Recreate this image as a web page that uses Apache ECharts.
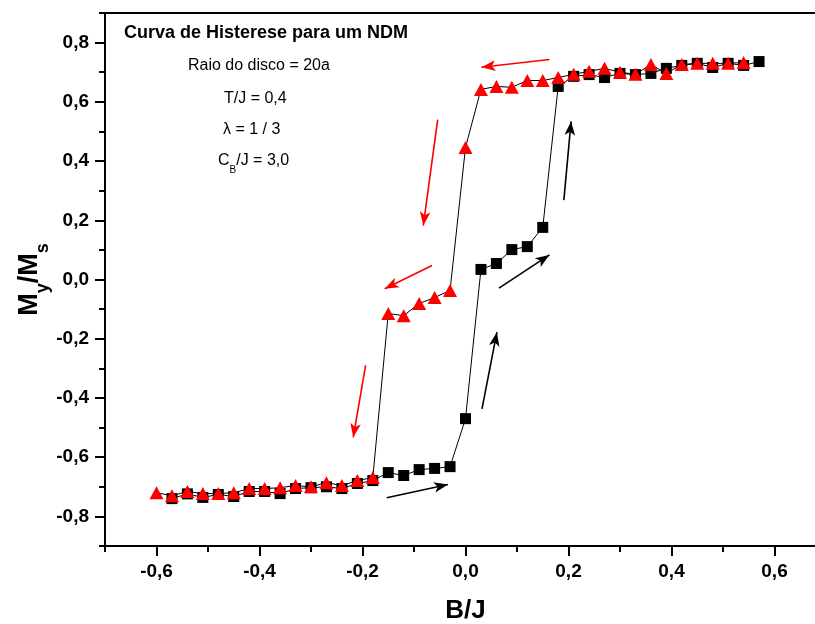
<!DOCTYPE html>
<html>
<head>
<meta charset="utf-8">
<script src="https://cdn.jsdelivr.net/npm/echarts@6/dist/echarts.min.js"></script>
<style>html,body{margin:0;padding:0;background:#fff}#c{width:815px;height:624px}</style>
</head>
<body>
<div id="c"></div>
<script>
// Increasing field branch (black squares)
var upB = [-0.57,-0.54,-0.51,-0.48,-0.45,-0.42,-0.39,-0.36,-0.33,-0.30,-0.27,-0.24,-0.21,-0.18,-0.15,-0.12,-0.09,-0.06,-0.03,0.00,0.03,0.06,0.09,0.12,0.15,0.18,0.21,0.24,0.27,0.30,0.33,0.36,0.39,0.42,0.45,0.48,0.51,0.54,0.57];
var upM = [-0.740,-0.724,-0.736,-0.726,-0.733,-0.716,-0.716,-0.723,-0.706,-0.703,-0.700,-0.706,-0.689,-0.679,-0.652,-0.662,-0.642,-0.638,-0.632,-0.470,0.034,0.054,0.101,0.111,0.176,0.652,0.686,0.692,0.682,0.696,0.692,0.696,0.713,0.723,0.730,0.716,0.730,0.723,0.736];
// Decreasing field branch (red triangles)
var downB = [0.54,0.51,0.48,0.45,0.42,0.39,0.36,0.33,0.30,0.27,0.24,0.21,0.18,0.15,0.12,0.09,0.06,0.03,0.00,-0.03,-0.06,-0.09,-0.12,-0.15,-0.18,-0.21,-0.24,-0.27,-0.30,-0.33,-0.36,-0.39,-0.42,-0.45,-0.48,-0.51,-0.54,-0.57,-0.60];
var downM = [0.733,0.730,0.730,0.730,0.726,0.696,0.726,0.693,0.700,0.713,0.703,0.693,0.682,0.672,0.672,0.649,0.652,0.642,0.446,-0.037,-0.061,-0.081,-0.122,-0.115,-0.669,-0.679,-0.696,-0.686,-0.700,-0.696,-0.703,-0.706,-0.706,-0.720,-0.723,-0.723,-0.716,-0.730,-0.720];
// Annotation arrows [x1,y1,x2,y2] in data units
var redArrows = [[0.163,0.743,0.031,0.717],[-0.054,0.540,-0.082,0.182],[-0.065,0.047,-0.157,-0.031],[-0.194,-0.290,-0.218,-0.533]];
var blackArrows = [[-0.153,-0.737,-0.034,-0.692],[0.032,-0.437,0.061,-0.178],[0.065,-0.029,0.163,0.083],[0.191,0.268,0.205,0.534]];
// Ticks
var xMajor = [-0.6,-0.4,-0.2,0.0,0.2,0.4,0.6];
var xMinor = [-0.7,-0.5,-0.3,-0.1,0.1,0.3,0.5,0.7];
var yMajor = [-0.8,-0.6,-0.4,-0.2,0.0,0.2,0.4,0.6,0.8];
var yMinor = [-0.9,-0.7,-0.5,-0.3,-0.1,0.1,0.3,0.5,0.7,0.9];

function pairs(xs, ys){ return xs.map(function(x,i){ return [x, ys[i]]; }); }
function arrowLines(arr){ return arr.map(function(a){ return [{coord:[a[0],a[1]]},{coord:[a[2],a[3]]}]; }); }
function fmt(v){ return v.toFixed(1).replace('.', ','); }

var FONT = 'Liberation Sans, Arial, sans-serif';
var AX = {color:'#000', width:2};
var chart = echarts.init(document.getElementById('c'), null, {renderer:'canvas'});
chart.setOption({
  animation:false,
  backgroundColor:'#fff',
  grid:{left:105, top:13, width:721, height:533, show:true, borderColor:'#000', borderWidth:2,
        backgroundColor:'transparent', containLabel:false, outerBoundsMode:'none'},
  xAxis:[{
    type:'value', min:-0.7, max:0.7,
    name:'B/J', nameLocation:'middle', nameGap:52, nameMoveOverlap:false,
    nameTextStyle:{fontFamily:FONT, fontWeight:'bold', fontSize:26, color:'#000'},
    axisLine:{onZero:false, lineStyle:AX},
    axisTick:{inside:false, length:10, lineStyle:AX, customValues:xMajor},
    splitLine:{show:false},
    axisLabel:{fontFamily:FONT, fontWeight:'bold', fontSize:19, color:'#000', margin:16,
      customValues:xMajor, formatter:fmt}
  },{
    type:'value', min:-0.7, max:0.7, position:'bottom',
    axisLine:{show:false, onZero:false}, splitLine:{show:false}, axisLabel:{show:false},
    axisTick:{inside:false, length:6, lineStyle:AX, customValues:xMinor}
  }],
  yAxis:[{
    type:'value', min:-0.9, max:0.9,
    name:'{b|M}{s|y}{b|/M}{s|s}', nameLocation:'middle', nameGap:53, nameMoveOverlap:false,
    nameTextStyle:{fontFamily:FONT, fontWeight:'bold', fontSize:27, color:'#000',
      rich:{ b:{fontFamily:FONT, fontWeight:'bold', fontSize:27, color:'#000', verticalAlign:'top', lineHeight:36},
             s:{fontFamily:FONT, fontWeight:'bold', fontSize:18, color:'#000', verticalAlign:'bottom', lineHeight:36} }},
    axisLine:{onZero:false, lineStyle:AX},
    axisTick:{inside:false, length:10, lineStyle:AX, customValues:yMajor},
    splitLine:{show:false},
    axisLabel:{fontFamily:FONT, fontWeight:'bold', fontSize:19, color:'#000', margin:16,
      customValues:yMajor, formatter:fmt}
  },{
    type:'value', min:-0.9, max:0.9, position:'left',
    axisLine:{show:false, onZero:false}, splitLine:{show:false}, axisLabel:{show:false},
    axisTick:{inside:false, length:6, lineStyle:AX, customValues:yMinor}
  }],
  series:[
    {type:'line', data:pairs(upB, upM), symbol:'rect', symbolSize:11,
     itemStyle:{color:'#000'}, lineStyle:{color:'#000', width:1},
     markLine:{silent:true, symbol:['none','arrow'], symbolSize:[8,14], label:{show:false},
       lineStyle:{color:'#000', width:1.6, type:'solid'}, data:arrowLines(blackArrows)}},
    {type:'line', data:pairs(downB, downM), symbol:'triangle', symbolSize:[14,13],
     itemStyle:{color:'#ff0000'}, lineStyle:{color:'#000', width:1},
     markLine:{silent:true, symbol:['none','arrow'], symbolSize:[8,14], label:{show:false},
       lineStyle:{color:'#ff0000', width:1.6, type:'solid'}, data:arrowLines(redArrows)}}
  ],
  graphic:[
    {type:'text', left:124, top:24, style:{text:'Curva de Histerese para um NDM', fontFamily:FONT, fontWeight:'bold', fontSize:18, fill:'#000'}},
    {type:'text', left:188, top:58, style:{text:'Raio do disco = 20a', fontFamily:FONT, fontSize:16, fill:'#000'}},
    {type:'text', left:224, top:91, style:{text:'T/J = 0,4', fontFamily:FONT, fontSize:16, fill:'#000'}},
    {type:'text', left:223, top:122, style:{text:'λ = 1 / 3', fontFamily:FONT, fontSize:16, fill:'#000'}},
    {type:'text', left:218, top:153, style:{text:'{n|C}{s|B}{n|/J = 3,0}', fontFamily:FONT, fontSize:16, fill:'#000',
      rich:{n:{fontFamily:FONT, fontSize:16, fill:'#000', verticalAlign:'top', lineHeight:22}, s:{fontFamily:FONT, fontSize:10, fill:'#000', verticalAlign:'bottom', lineHeight:22}}}}
  ]
});
</script>
</body>
</html>
